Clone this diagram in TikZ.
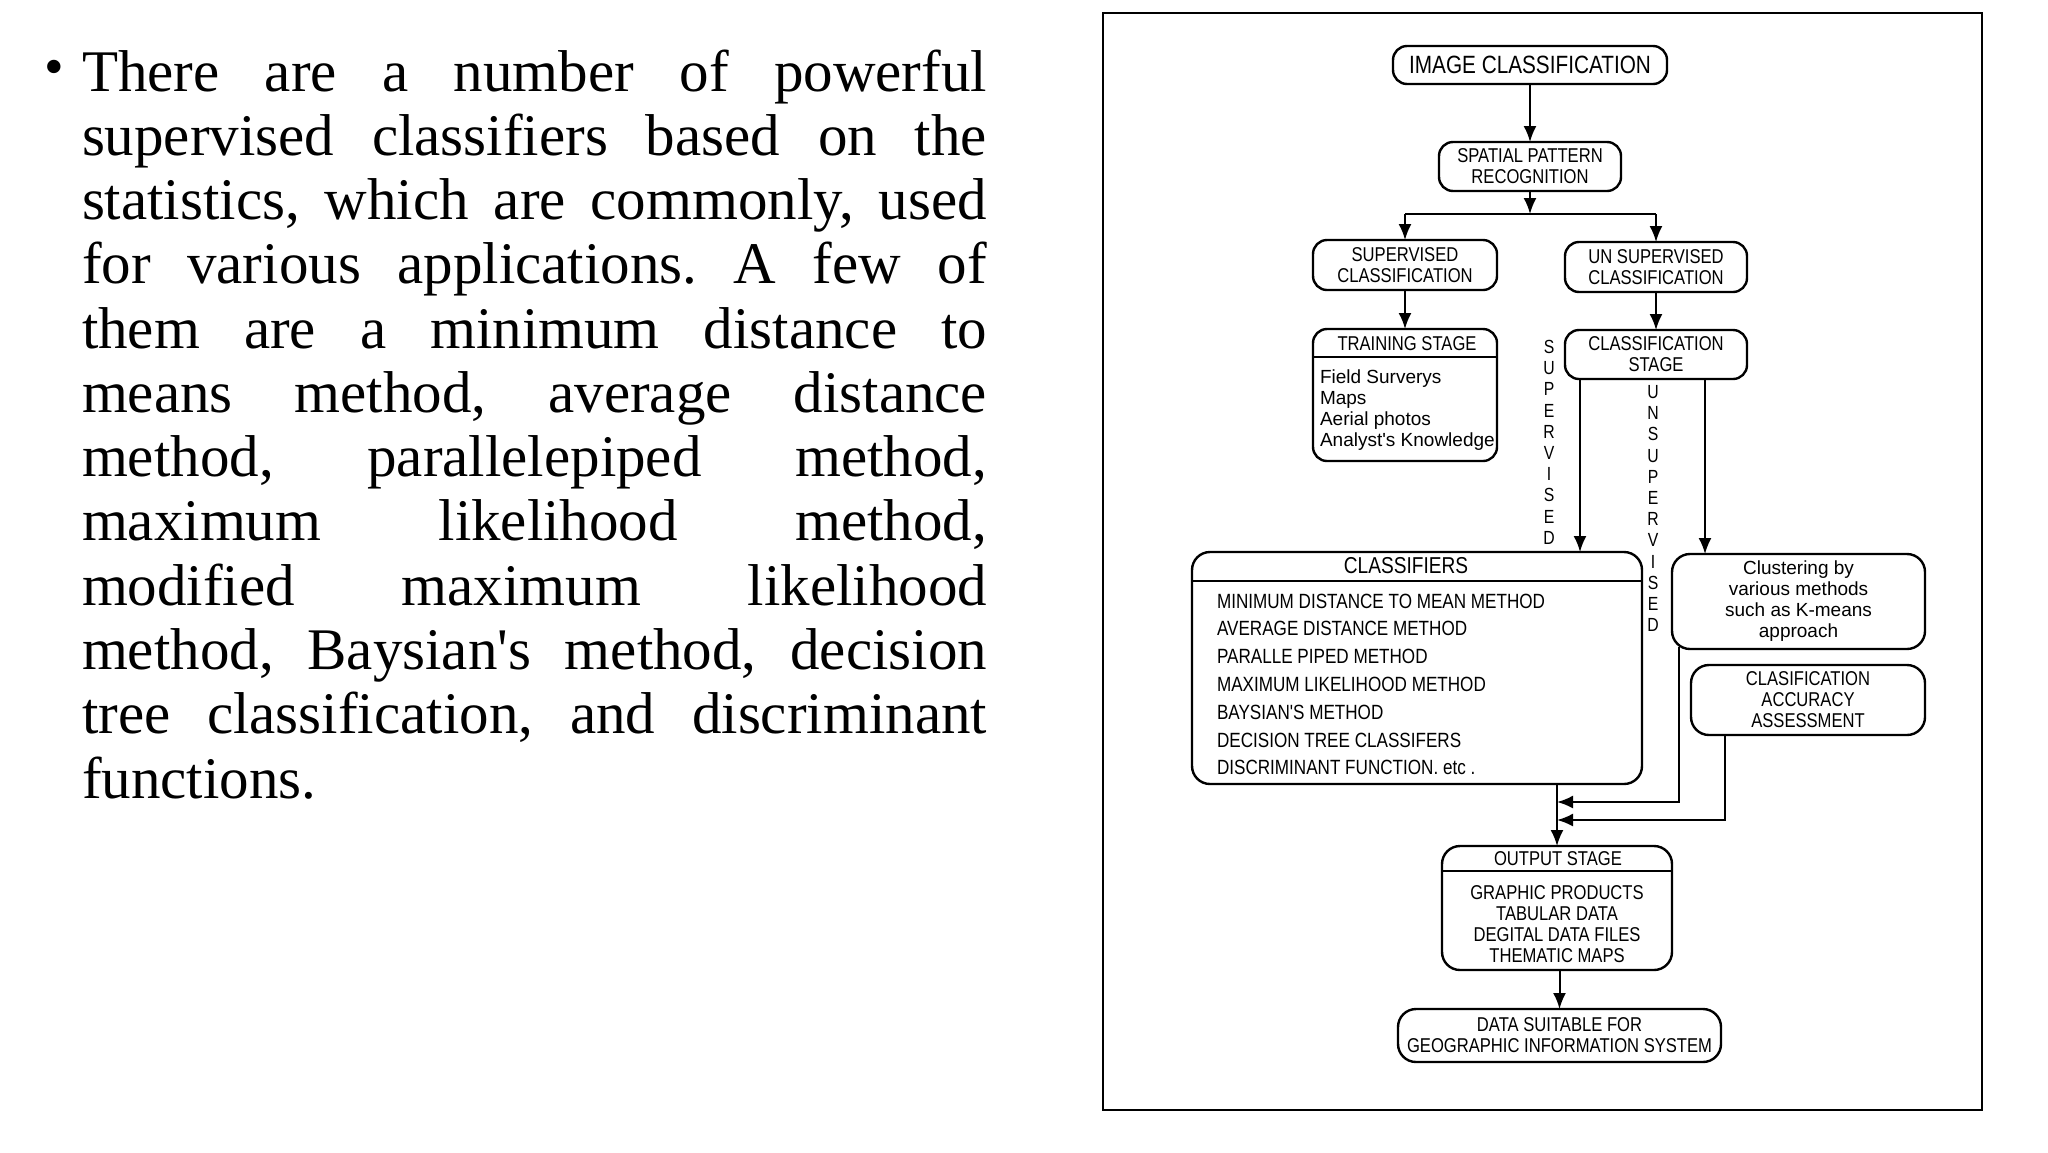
\documentclass[tikz,border=0pt]{standalone}
\usepackage{fontspec}
\setmainfont{Liberation Serif}[Ligatures=TeXOff]
\newfontfamily\dgf{Liberation Sans}[FakeStretch=0.83,Ligatures=TeXOff]
\newfontfamily\dgl{Liberation Sans}[Ligatures=TeXOff]
\usetikzlibrary{arrows.meta}
\begin{document}
\frenchspacing
\begin{tikzpicture}[x=0.5pt,y=-0.5pt,
  every node/.style={inner sep=0pt, outer sep=0pt},
  box/.style={draw, line width=1.2pt, rounded corners=7pt},
  bigbox/.style={draw, line width=1.2pt, rounded corners=9pt},
  lbl/.style={font=\dgf\fontsize{10pt}{10.5pt}\selectfont, align=center},
  lowtxt/.style={font=\dgl\fontsize{9.5pt}{10.5pt}\selectfont},
  clsitem/.style={font=\dgf\fontsize{10.3pt}{10.5pt}\selectfont, anchor=base west},
  vlet/.style={font=\dgf\fontsize{9.5pt}{10pt}\selectfont},
  conn/.style={line width=1pt},
  arr/.style={conn, -{Latex[length=8pt,width=6.5pt]}},
  body/.style={font=\fontsize{29.5pt}{32pt}\selectfont, anchor=base west}
]
\useasboundingbox (0,0) rectangle (2048,1152);
\fill[white] (0,0) rectangle (2048,1152);

% ---------- left text ----------
\node (bul) at (54,73) {\fontsize{28pt}{28pt}\selectfont\textbullet};
\node[body] (t1) at (82,91) {\makebox[452.5pt][s]{There are a number of powerful}};
\node[body] (t2) at (82,155.3) {\makebox[452.5pt][s]{supervised classifiers based on the}};
\node[body] (t3) at (82,219.5) {\makebox[452.5pt][s]{statistics, which are commonly, used}};
\node[body] (t4) at (82,283.8) {\makebox[452.5pt][s]{for various applications. A few of}};
\node[body] (t5) at (82,348.1) {\makebox[452.5pt][s]{them are a minimum distance to}};
\node[body] (t6) at (82,412.4) {\makebox[452.5pt][s]{means method, average distance}};
\node[body] (t7) at (82,476.6) {\makebox[452.5pt][s]{method, parallelepiped method,}};
\node[body] (t8) at (82,540.9) {\makebox[452.5pt][s]{maximum likelihood method,}};
\node[body] (t9) at (82,605.2) {\makebox[452.5pt][s]{modified maximum likelihood}};
\node[body] (t10) at (82,669.4) {\makebox[452.5pt][s]{method, Baysian's method, decision}};
\node[body] (t11) at (82,733.7) {\makebox[452.5pt][s]{tree classification, and discriminant}};
\node[body] (t12) at (82,798) {functions.};

% ---------- frame ----------
\draw[line width=1pt] (1103,13) rectangle (1982,1110);

% ---------- boxes ----------
\node[box, lbl, font=\dgf\fontsize{12.5pt}{13pt}\selectfont, minimum width=137pt, minimum height=19pt] (ic) at (1530,65) {IMAGE CLASSIFICATION};
\node[box, lbl, minimum width=91pt, minimum height=24.5pt] (spr) at (1530,166.5) {SPATIAL PATTERN\\RECOGNITION};
\node[box, lbl, minimum width=92pt, minimum height=25pt] (sup) at (1405,265) {SUPERVISED\\CLASSIFICATION};
\node[box, lbl, minimum width=91pt, minimum height=25pt] (unsup) at (1656,267) {UN SUPERVISED\\CLASSIFICATION};
\node[box, minimum width=92pt, minimum height=66pt] (train) at (1405,395) {};
\node[box, lbl, minimum width=91pt, minimum height=24.5pt] (cs) at (1656,354.5) {CLASSIFICATION\\STAGE};
\node[bigbox, minimum width=225pt, minimum height=116pt] (clf) at (1417,668) {};
\node[bigbox, lowtxt, align=center, minimum width=126.5pt, minimum height=47.5pt] (clu) at (1798.5,601.5) {Clustering by\\various methods\\such as K-means\\approach};
\node[bigbox, lbl, minimum width=117pt, minimum height=35pt] (acc) at (1808,700) {CLASIFICATION\\ACCURACY\\ASSESSMENT};
\node[bigbox, minimum width=115pt, minimum height=62pt] (out) at (1557,908) {};
\node[bigbox, lbl, minimum width=161.5pt, minimum height=26.5pt] (data) at (1559.5,1035.5) {DATA SUITABLE FOR\\GEOGRAPHIC INFORMATION SYSTEM};

% ---------- header lines ----------
\coordinate (trh) at (1405,357);
\coordinate (clh) at (1417,581);
\coordinate (ouh) at (1557,871);
\draw[conn] (train.west |- trh) -- (train.east |- trh);
\draw[conn] (clf.west |- clh) -- (clf.east |- clh);
\draw[conn] (out.west |- ouh) -- (out.east |- ouh);

% ---------- texts in header boxes ----------
\node[lbl] (trainhd) at (1407,344) {TRAINING STAGE};
\node[lowtxt, anchor=base west] (tr1) at (1320,383) {Field Surverys};
\node[lowtxt, anchor=base west] (tr2) at (1320,404) {Maps};
\node[lowtxt, anchor=base west] (tr3) at (1320,425) {Aerial photos};
\node[lowtxt, anchor=base west] (tr4) at (1320,446) {Analyst's Knowledge};

\node[lbl, font=\dgf\fontsize{11.5pt}{12pt}\selectfont] (clfhd) at (1406,566) {CLASSIFIERS};
\foreach \t [count=\i] in {MINIMUM DISTANCE TO MEAN METHOD,AVERAGE DISTANCE METHOD,PARALLE PIPED METHOD,MAXIMUM LIKELIHOOD METHOD,BAYSIAN'S METHOD,DECISION TREE CLASSIFERS,DISCRIMINANT FUNCTION. etc .}
  \node[clsitem] (cm\i) at (1217,{608+27.8*(\i-1)}) {\t};

\node[lbl] (outhd) at (1558,859) {OUTPUT STAGE};
\node[lbl] (outbody) at (1557,924.5) {GRAPHIC PRODUCTS\\TABULAR DATA\\DEGITAL DATA FILES\\THEMATIC MAPS};

% ---------- vertical labels ----------
\foreach \c [count=\i] in {S,U,P,E,R,V,I,S,E,D}
  \node[vlet] (sv\i) at (1549,{347+21.2*(\i-1)}) {\c};
\foreach \c [count=\i] in {U,N,S,U,P,E,R,V,I,S,E,D}
  \node[vlet] (uv\i) at (1653,{392+21.2*(\i-1)}) {\c};

% ---------- connectors ----------
\coordinate (split) at (1530,214);
\coordinate (splL) at (1405,214);
\coordinate (splR) at (1656,214);
\draw[arr] (ic) -- (spr);
\draw[arr] (spr) -- (split);
\draw[conn] (splL) -- (splR);
\draw[arr] (splL) -- (sup);
\draw[arr] (splR) -- (unsup);
\draw[arr] (sup) -- (train);
\draw[arr] (unsup) -- (cs);

\coordinate (xa) at (1580,0);
\coordinate (xb) at (1705,0);
\draw[arr] (cs.south -| xa) -- (clf.north -| xa);
\draw[arr] (cs.south -| xb) -- (clu.north -| xb);

\draw[arr] (clf.south -| out.north) -- (out.north);
\coordinate (j1) at (1557,802);
\coordinate (j2) at (1557,820);
\coordinate (xc) at (1679,0);
\coordinate (xd) at (1725,0);
\coordinate (cub) at ([yshift=1pt]clu.south);
\draw[arr] (cub -| xc) |- (j1);
\draw[arr] (acc.south -| xd) |- (j2);
\draw[arr] (out.south -| data.north) -- (data.north);
\end{tikzpicture}
\end{document}
